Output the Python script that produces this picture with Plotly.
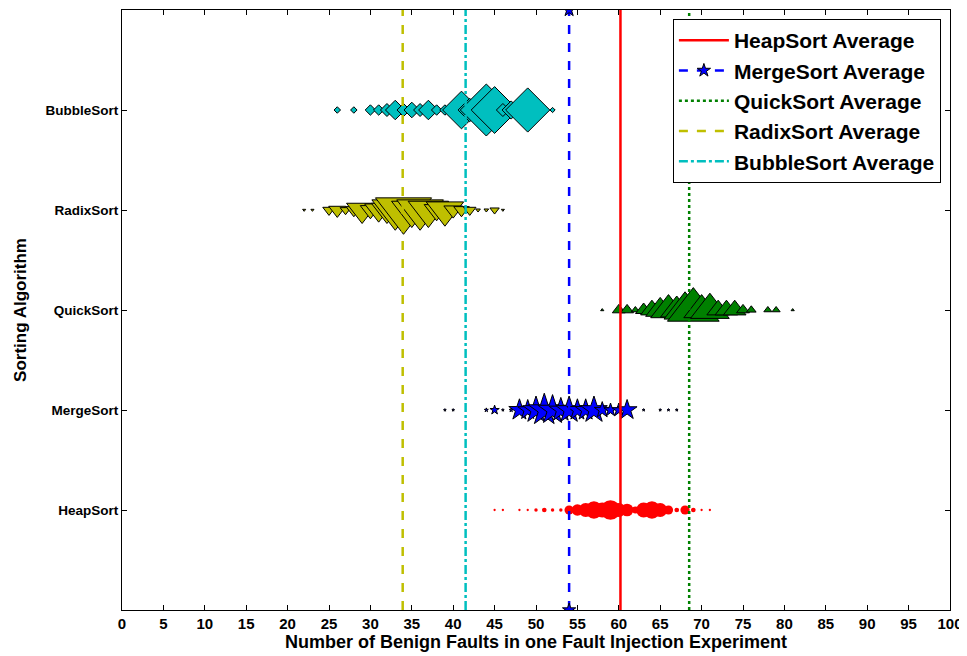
import plotly.graph_objects as go

# ---------------- data ----------------
categories = ["HeapSort", "MergeSort", "QuickSort", "RadixSort", "BubbleSort"]
cat_pos = [1, 2, 3, 4, 5]

heap_x = [45, 46, 48, 49, 50, 51, 52, 53, 54, 55, 56, 57, 58, 59, 60, 61, 62, 63, 64, 65, 66, 67, 68, 69, 70, 71]
heap_freq = [2, 2, 2, 2, 3, 4, 3, 3, 8, 10, 12, 15, 13, 17, 12, 11, 6, 13, 15, 12, 8, 4, 8, 4, 2, 2]

merge_x = [39, 40, 44, 45, 46, 47, 48, 49, 50, 51, 52, 53, 54, 55, 56, 57, 58, 59, 60, 61, 63, 65, 66, 67]
merge_freq = [2, 2, 3, 7, 2, 3, 16, 15, 20, 24, 22, 18, 20, 16, 16, 20, 12, 10, 10, 15, 2, 2, 2, 2]

quick_x = [58, 60, 61, 62, 63, 64, 65, 66, 67, 68, 69, 70, 71, 72, 73, 74, 75, 76, 78, 79, 81]
quick_freq = [2, 8, 8, 5, 10, 14, 18, 22, 20, 26, 32, 22, 24, 14, 14, 14, 8, 6, 5, 5, 2]

radix_x = [22, 23, 25, 26, 27, 28, 29, 30, 31, 32, 33, 34, 35, 36, 37, 38, 39, 40, 41, 42, 43, 44, 45, 46]
radix_freq = [2, 2, 8, 11, 7, 10, 20, 13, 18, 20, 30, 36, 26, 30, 26, 16, 24, 12, 10, 8, 3, 3, 6, 2]

bubble_x = [26, 28, 30, 31, 32, 33, 34, 35, 36, 37, 38, 39, 41, 42, 44, 45, 46, 47, 48, 49, 52]
bubble_freq = [5, 5, 8, 8, 10, 15, 10, 12, 10, 15, 8, 8, 29, 18, 40, 36, 10, 14, 8, 34, 4]

averages = [60.2, 54.0, 68.5, 33.9, 41.5]

x_ticks = list(range(0, 101, 5))

# ---------------- styles ----------------
colors = ["#FF0000", "#0000FF", "#008000", "#BFBF00", "#00BFBF"]
symbols = ["circle", "star", "triangle-up", "triangle-down", "diamond"]
size_gain = {"circle": 1.15, "star": 1.0, "triangle-up": 1.4, "triangle-down": 1.35, "diamond": 1.0}
edge_w = [0, 1, 1, 1, 1]
dashes = ["solid", "dash", "dot", "dash", "dashdot"]

series_x = [heap_x, merge_x, quick_x, radix_x, bubble_x]
series_f = [heap_freq, merge_freq, quick_freq, radix_freq, bubble_freq]

font_family = "Liberation Sans, Arial, Helvetica, sans-serif"

fig = go.Figure()

# scatter markers
for i in range(5):
    xs = series_x[i]
    fs = series_f[i]
    sym = symbols[i]
    fig.add_trace(go.Scatter(
        x=xs,
        y=[cat_pos[i]] * len(xs),
        mode="markers",
        showlegend=False,
        hoverinfo="x",
        marker=dict(
            symbol=sym,
            size=[max(f * size_gain[sym], 2) for f in fs],
            color=colors[i],
            line=dict(color="black", width=edge_w[i]),
            opacity=1,
        ),
    ))

# average lines
for i in range(5):
    tr = dict(
        x=[averages[i], averages[i]],
        y=[0, 6],
        name=f"{categories[i]} Average",
        line=dict(color=colors[i], width=2.5, dash=dashes[i]),
        legendgroup=f"g{i}",
        cliponaxis=True,
    )
    if i == 1:
        tr["mode"] = "lines+markers"
        tr["marker"] = dict(symbol="star", size=10, color=colors[i],
                            line=dict(color="black", width=1))
    else:
        tr["mode"] = "lines"
    fig.add_trace(go.Scatter(**tr))

# the page body adds an 8px offset; size/margins compensate for it
fig.update_layout(
    width=959,
    height=648,
    margin=dict(l=114, r=17, t=2, b=46),
    paper_bgcolor="white",
    plot_bgcolor="white",
    font=dict(family=font_family, size=14, color="black", weight="bold"),
    legend=dict(
        x=0.989, y=0.985, xanchor="right", yanchor="top",
        bgcolor="white", bordercolor="black", borderwidth=1,
        font=dict(family=font_family, size=21, color="black", weight="bold"),
        traceorder="grouped", tracegroupgap=0, itemwidth=50,
    ),
    showlegend=True,
)

fig.update_xaxes(
    range=[0, 100],
    tickvals=x_ticks,
    ticktext=[str(v) for v in x_ticks],
    ticks="inside", ticklen=5, tickwidth=1, tickcolor="black",
    showline=True, linecolor="black", linewidth=1, mirror="allticks",
    showgrid=False, zeroline=False, automargin=False,
    tickfont=dict(family=font_family, size=15, weight="bold"),
    title=dict(text="Number of Benign Faults in one Fault Injection Experiment",
               font=dict(family=font_family, size=18, weight="bold"), standoff=2),
)
fig.update_yaxes(
    range=[0, 6],
    tickvals=cat_pos,
    ticktext=categories,
    ticks="inside", ticklen=5, tickwidth=1, tickcolor="black",
    showline=True, linecolor="black", linewidth=1, mirror="allticks",
    showgrid=False, zeroline=False, automargin=False,
    tickfont=dict(family=font_family, size=13.5, weight="bold"),
    title=dict(text="Sorting Algorithm",
               font=dict(family=font_family, size=17, weight="bold"), standoff=14),
)

fig.write_html("out.html")
